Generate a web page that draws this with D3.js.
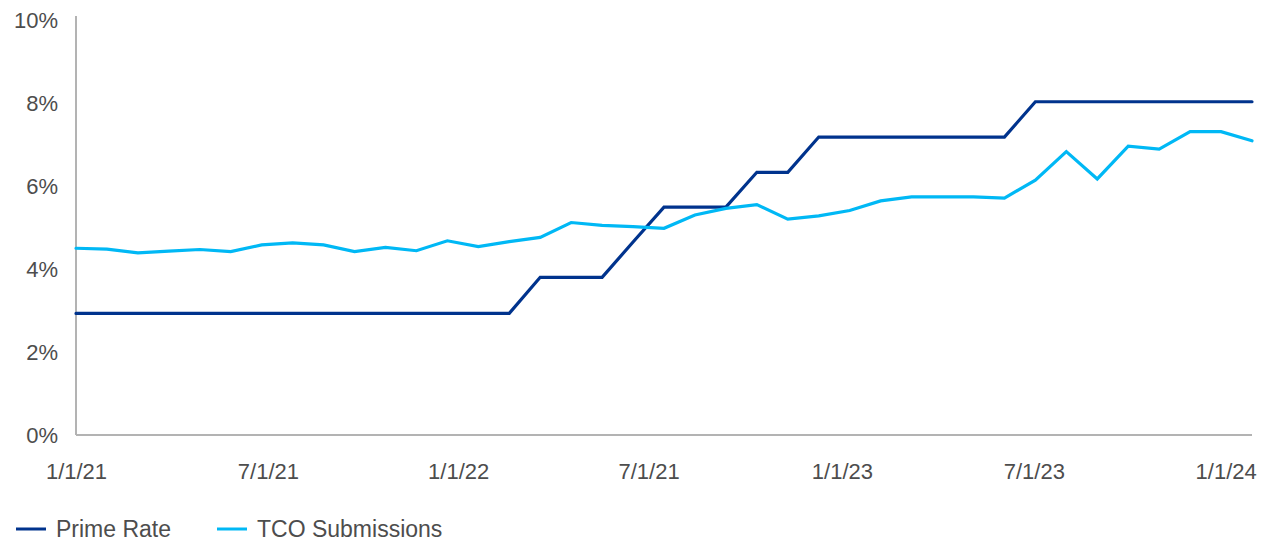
<!DOCTYPE html>
<html>
<head>
<meta charset="utf-8">
<script src="https://cdn.jsdelivr.net/npm/d3@7"></script>
<style>
  body { margin: 0; background: #fff; }
  text { font-family: "Liberation Sans", Arial, sans-serif; fill: #4d4d4d; }
</style>
</head>
<body>
<div id="chart-area"></div>
<script>
// Data: one point per period (39 periods, Jan 2021 to late Jan 2024)
const primeRate = [
  2.93, 2.93, 2.93, 2.93, 2.93, 2.93, 2.93, 2.93, 2.93, 2.93,
  2.93, 2.93, 2.93, 2.93, 2.93, 3.80, 3.80, 3.80, 4.65, 5.49,
  5.49, 5.49, 6.33, 6.33, 7.18, 7.18, 7.18, 7.18, 7.18, 7.18,
  7.18, 8.03, 8.03, 8.03, 8.03, 8.03, 8.03, 8.03, 8.03
];
const tcoSubmissions = [
  4.50, 4.48, 4.39, 4.43, 4.47, 4.42, 4.58, 4.63, 4.58, 4.42,
  4.52, 4.44, 4.68, 4.54, 4.66, 4.76, 5.12, 5.05, 5.02, 4.98,
  5.30, 5.46, 5.55, 5.20, 5.28, 5.41, 5.64, 5.74, 5.74, 5.74,
  5.71, 6.14, 6.83, 6.17, 6.96, 6.89, 7.31, 7.31, 7.09
];
const periods = d3.range(primeRate.length);

// x tick labels (the original really says 7/1/21 twice) and where they sit, in periods
const tickLabels = ["1/1/21", "7/1/21", "1/1/22", "7/1/21", "1/1/23", "7/1/23", "1/1/24"];
const tickPeriods = [0, 6.2, 12.35, 18.5, 24.75, 30.95, 37.15];
const yTicks = [0, 2, 4, 6, 8, 10];

const seriesNames = ["Prime Rate", "TCO Submissions"];
const seriesColors = ["#00338d", "#00b8f5"];

// Layout
const margin = { top: 20, right: 28, bottom: 106, left: 76 };
const width = 1280 - margin.left - margin.right;
const height = 541 - margin.top - margin.bottom;

const svg = d3.select("#chart-area")
  .append("svg")
  .attr("width", 1280)
  .attr("height", 541);

const g = svg.append("g")
  .attr("transform", `translate(${margin.left},${margin.top})`);

const xScale = d3.scaleLinear().domain([0, periods.length - 1]).range([0, width]);
const yScale = d3.scaleLinear().domain([0, 10]).range([height, 0]);

// y axis: labels only, plus a grey axis line
const yAxis = d3.axisLeft(yScale)
  .tickValues(yTicks)
  .tickFormat(d => d + "%")
  .tickSize(0)
  .tickPadding(18);
g.append("g")
  .call(yAxis)
  .call(a => a.select(".domain").remove())
  .selectAll("text")
  .attr("font-size", 22)
  .attr("dy", "0.36em");

// x axis labels
const xAxis = d3.axisBottom(xScale)
  .tickValues(tickPeriods)
  .tickFormat((d, i) => tickLabels[i])
  .tickSize(0)
  .tickPadding(28);
g.append("g")
  .attr("transform", `translate(0,${height})`)
  .call(xAxis)
  .call(a => a.select(".domain").remove())
  .selectAll("text")
  .attr("font-size", 22);

// axis lines
g.append("line")
  .attr("x1", 0).attr("x2", 0)
  .attr("y1", -4).attr("y2", height)
  .attr("stroke", "#b3b3b3").attr("stroke-width", 2);
g.append("line")
  .attr("x1", 0).attr("x2", width)
  .attr("y1", height).attr("y2", height)
  .attr("stroke", "#b3b3b3").attr("stroke-width", 2);

// lines
const line = d3.line()
  .x((d, i) => xScale(periods[i]))
  .y(d => yScale(d));

[primeRate, tcoSubmissions].forEach((values, k) => {
  g.append("path")
    .datum(values)
    .attr("fill", "none")
    .attr("stroke", seriesColors[k])
    .attr("stroke-width", 3.2)
    .attr("stroke-linejoin", "miter")
    .attr("stroke-linecap", "round")
    .attr("d", line);
});

// legend
const legendX = [16, 217];
const legend = svg.append("g").attr("transform", "translate(0,529)");
seriesNames.forEach((name, k) => {
  legend.append("line")
    .attr("x1", legendX[k]).attr("x2", legendX[k] + 30)
    .attr("y1", 0).attr("y2", 0)
    .attr("stroke", seriesColors[k])
    .attr("stroke-width", 3);
  legend.append("text")
    .attr("x", legendX[k] + 40)
    .attr("y", 0)
    .attr("dy", "0.36em")
    .attr("font-size", 23)
    .text(name);
});
</script>
</body>
</html>
